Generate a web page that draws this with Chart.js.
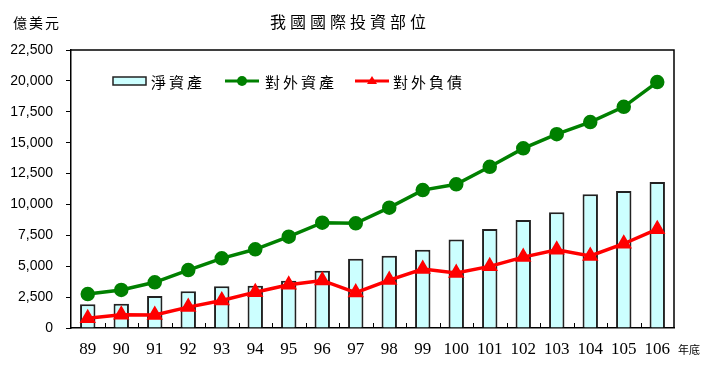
<!DOCTYPE html>
<html>
<head>
<meta charset="utf-8">
<script src="https://cdn.jsdelivr.net/npm/chart.js@4"></script>
<style>
  body{margin:0;background:#fff;}
  #wrap{width:714px;height:372px;}
</style>
</head>
<body>
<div id="wrap"><canvas id="myChart" width="714" height="372"></canvas></div>
<script>
// data
var years = ["89","90","91","92","93","94","95","96","97","98","99","100","101","102","103","104","105","106"];
var netAssets = [1920,1970,2590,2970,3370,3420,3830,4640,5600,5850,6330,7170,8010,8740,9360,10820,11080,11810];
var extAssets = [2750,3080,3700,4690,5640,6370,7390,8520,8470,9740,11160,11630,13050,14540,15690,16670,17900,19900];
var extLiab = [780,1080,1060,1690,2230,2900,3500,3850,2870,3880,4770,4450,4990,5740,6330,5830,6820,8000];
var seriesNames = ["淨資產","對外資產","對外負債"];
var yTicks = [0,2500,5000,7500,10000,12500,15000,17500,20000,22500];

var cjk = '"Noto Sans CJK TC", "Noto Sans CJK SC", sans-serif';

// title, unit labels, box, inward x ticks, legend
var extras = {
    id: 'extras',
    afterDraw: function(chart){
        var ctx = chart.ctx;
        var a = chart.chartArea;
        var x = chart.scales.x;
        ctx.save();
        // top + right border of the plot box
        ctx.strokeStyle = '#000';
        ctx.lineWidth = 1.5;
        ctx.beginPath();
        ctx.moveTo(a.left, a.top);
        ctx.lineTo(a.right, a.top);
        ctx.lineTo(a.right, a.bottom);
        ctx.stroke();
        // small inward ticks between categories
        ctx.lineWidth = 1;
        ctx.beginPath();
        for (var i = 0; i < years.length - 1; i++) {
            var px = Math.round((x.getPixelForValue(i) + x.getPixelForValue(i + 1)) / 2) + 0.5;
            ctx.moveTo(px, a.bottom);
            ctx.lineTo(px, a.bottom - 5);
        }
        ctx.stroke();

        ctx.fillStyle = '#000';
        ctx.textBaseline = 'middle';
        // title
        ctx.font = '16px ' + cjk;
        ctx.letterSpacing = '4px';
        ctx.textAlign = 'left';
        ctx.fillText('我國國際投資部位', 270, 22);
        // unit
        ctx.font = '14px ' + cjk;
        ctx.letterSpacing = '2px';
        ctx.fillText('億美元', 13, 23);
        // x unit
        ctx.font = '11px ' + cjk;
        ctx.letterSpacing = '0px';
        ctx.fillText('年底', 678, 350);

        // legend
        var ly = 81;
        var items = chart.data.datasets;
        var pos = [[113, 151], [225, 265], [355, 393]];
        ctx.font = '15px ' + cjk;
        ctx.letterSpacing = '3px';
        for (var k = 0; k < items.length; k++) {
            var d = items[k];
            var sx = pos[k][0];
            if (d.type === 'bar') {
                ctx.fillStyle = d.backgroundColor;
                ctx.strokeStyle = d.borderColor;
                ctx.lineWidth = 1.5;
                ctx.fillRect(sx, ly - 4, 33, 8);
                ctx.strokeRect(sx, ly - 4, 33, 8);
            } else {
                ctx.strokeStyle = d.borderColor;
                ctx.lineWidth = 3;
                ctx.beginPath();
                ctx.moveTo(sx, ly);
                ctx.lineTo(sx + 34, ly);
                ctx.stroke();
                ctx.fillStyle = d.borderColor;
                ctx.beginPath();
                if (d.pointStyle === 'triangle') {
                    ctx.moveTo(sx + 17, ly - 5);
                    ctx.lineTo(sx + 22, ly + 3);
                    ctx.lineTo(sx + 12, ly + 3);
                    ctx.closePath();
                } else {
                    ctx.arc(sx + 17, ly, 5, 0, Math.PI * 2);
                }
                ctx.fill();
            }
            ctx.fillStyle = '#000';
            ctx.fillText(d.label, pos[k][1], ly + 1);
        }
        ctx.restore();
    }
};

var ctx = document.getElementById('myChart').getContext('2d');
var chart = new Chart(ctx, {
    data: {
        labels: years,
        datasets: [{
            type: 'bar',
            label: seriesNames[0],
            data: netAssets,
            backgroundColor: '#CCFFFF',
            borderColor: '#222',
            borderWidth: 2,
            barPercentage: 0.46,
            categoryPercentage: 1,
            order: 3
        }, {
            type: 'line',
            label: seriesNames[1],
            data: extAssets,
            borderColor: '#008000',
            backgroundColor: '#008000',
            borderWidth: 3.5,
            pointRadius: 5.5,
            pointStyle: 'circle',
            order: 2
        }, {
            type: 'line',
            label: seriesNames[2],
            data: extLiab,
            borderColor: '#FF0000',
            backgroundColor: '#FF0000',
            borderWidth: 3.5,
            pointRadius: 6,
            pointStyle: 'triangle',
            order: 1
        }]
    },
    options: {
        responsive: false,
        animation: false,
        layout: {padding: {top: 50, right: 40, left: 0, bottom: 0}},
        plugins: {legend: {display: false}, tooltip: {enabled: false}},
        scales: {
            x: {
                offset: true,
                afterFit: function(s){ s.height = 44; },
                grid: {display: false},
                border: {color: '#000', width: 1.5},
                ticks: {
                    color: '#000',
                    padding: 3,
                    maxRotation: 0,
                    font: {family: '"Liberation Serif", serif', size: 17}
                }
            },
            y: {
                min: 0,
                max: 22500,
                afterFit: function(s){ s.width = 71; },
                afterBuildTicks: function(s){ s.ticks = yTicks.map(function(v){ return {value: v}; }); },
                grid: {drawOnChartArea: false, tickLength: 5, color: '#000'},
                border: {color: '#000', width: 1.5},
                ticks: {
                    color: '#000',
                    padding: 13,
                    font: {family: '"Liberation Sans", Arial, sans-serif', size: 14},
                    callback: function(v){ return v.toLocaleString('en-US'); }
                }
            }
        }
    },
    plugins: [extras]
});
</script>
</body>
</html>
